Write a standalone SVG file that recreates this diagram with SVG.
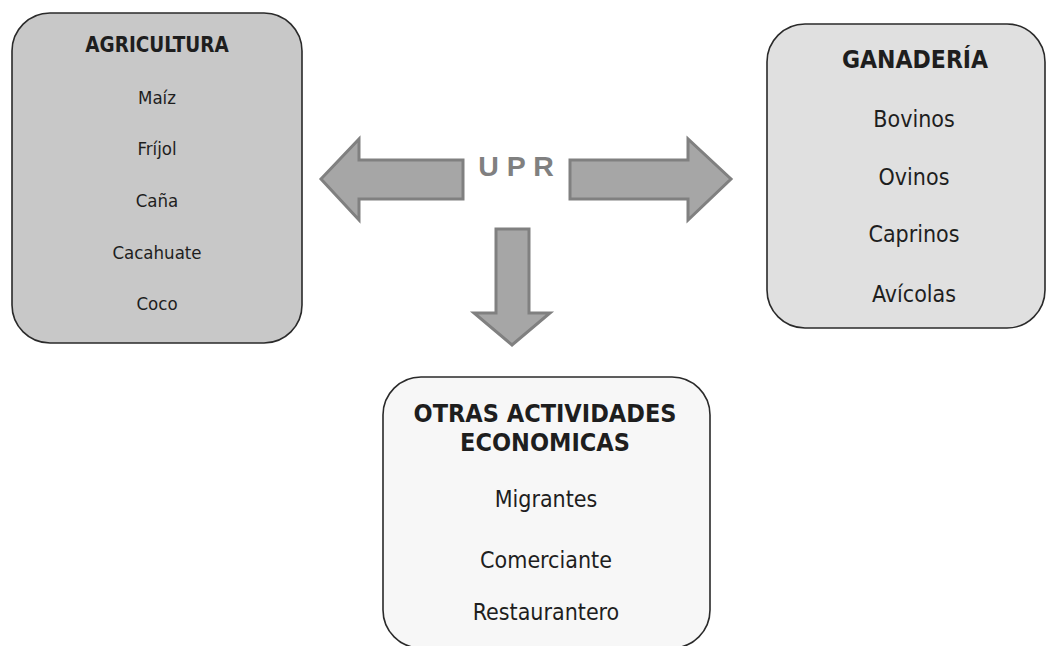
<svg xmlns="http://www.w3.org/2000/svg" width="1047" height="646" viewBox="0 0 1047 646">
<style>
.box{stroke:#2a2a2a;stroke-width:1.6}
.t{font-family:"DejaVu Sans Condensed","DejaVu Sans",sans-serif;font-stretch:condensed;fill:#1e1e1e;text-anchor:middle}
.b{font-weight:bold}
.arrow{fill:#a6a6a6;stroke:#808080;stroke-width:3;stroke-linejoin:miter}
.upr{font-family:"Liberation Sans",Arial,sans-serif;font-weight:bold;fill:#808080;text-anchor:middle}
</style>
<rect width="1047" height="646" fill="#ffffff"/>
<g id="agricultura">
<rect class="box" x="12" y="13" width="290" height="330" rx="38" ry="38" fill="#c8c8c8"/>
<text class="t b" x="157" y="52" font-size="20.5">AGRICULTURA</text>
<text class="t" x="157" y="104" font-size="18.5">Maíz</text>
<text class="t" x="157" y="155" font-size="18.5">Fríjol</text>
<text class="t" x="157" y="207" font-size="18.5">Caña</text>
<text class="t" x="157" y="259" font-size="18.5">Cacahuate</text>
<text class="t" x="157" y="310" font-size="18.5">Coco</text>
</g>
<g id="ganaderia">
<rect class="box" x="767" y="24" width="278" height="304" rx="38" ry="38" fill="#e0e0e0"/>
<text class="t b" x="915" y="68" font-size="24.5">GANADERÍA</text>
<text class="t" x="914" y="127" font-size="23">Bovinos</text>
<text class="t" x="914" y="185" font-size="23">Ovinos</text>
<text class="t" x="914" y="242" font-size="23">Caprinos</text>
<text class="t" x="914" y="302" font-size="23">Avícolas</text>
</g>
<g id="otras">
<rect class="box" x="383" y="377" width="327" height="271" rx="38" ry="38" fill="#f7f7f7"/>
<text class="t b" x="545" y="422" font-size="25">OTRAS ACTIVIDADES</text>
<text class="t b" x="545" y="451" font-size="25">ECONOMICAS</text>
<text class="t" x="546" y="507" font-size="23">Migrantes</text>
<text class="t" x="546" y="568" font-size="23">Comerciante</text>
<text class="t" x="546" y="620" font-size="23">Restaurantero</text>
</g>
<g id="upr">
<text class="upr" x="516" y="176" font-size="28.5">U P R</text>
</g>
<g id="connectors">
<polygon class="arrow" points="463,160 359,160 359,139 321,179 359,220 359,199 463,199"/>
<polygon class="arrow" points="570,160 688,160 688,139 731,179 688,220 688,199 570,199"/>
<polygon class="arrow" points="496,229 529,229 529,313 550,313 512,345 474,313 496,313"/>
</g>
</svg>
